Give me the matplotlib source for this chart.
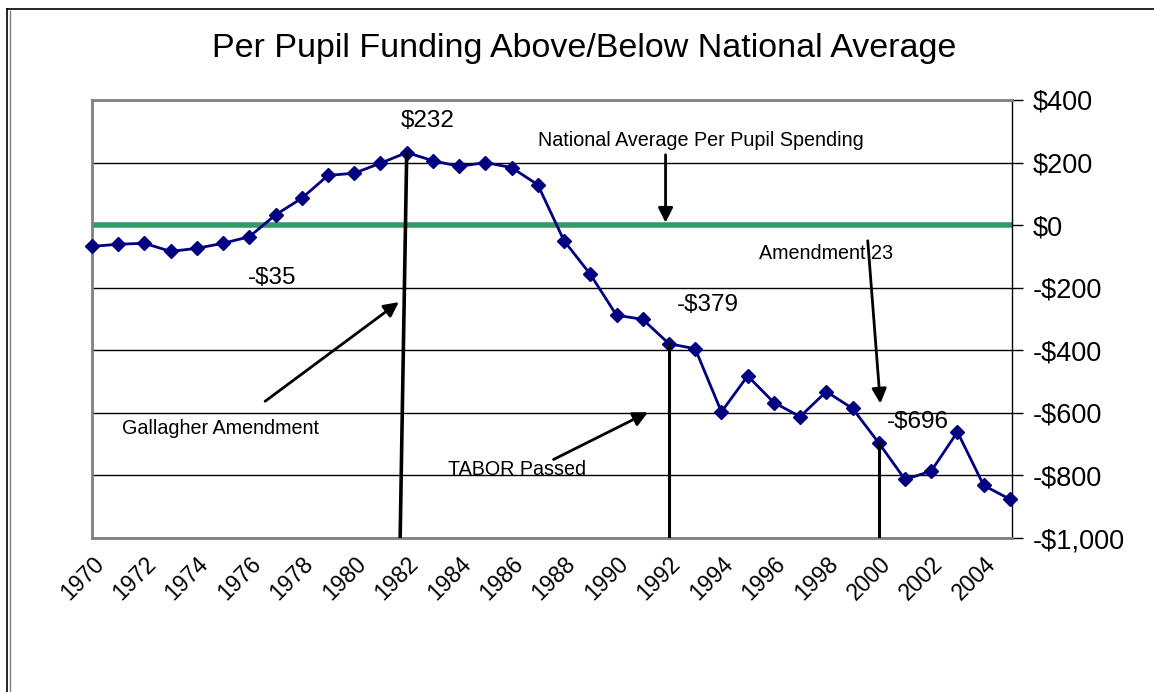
import numpy as np
import matplotlib.pyplot as plt
from matplotlib.lines import Line2D

plt.rcParams['font.family'] = ['Liberation Sans', 'DejaVu Sans']

years = list(range(1970, 2006))
funding = [-68, -61, -58, -84, -74, -58, -37, 33, 86, 159, 166, 198,
           232, 206, 188, 200, 184, 129, -50, -157, -288, -301, -379, -395,
           -597, -482, -567, -612, -532, -586, -696, -813, -786, -661, -832, -876]
tick_years = list(range(1970, 2005, 2))
y_ticks = [400, 200, 0, -200, -400, -600, -800, -1000]
y_labels = ['$400', '$200', '$0', '-$200', '-$400', '-$600', '-$800', '-$1,000']

fig = plt.figure(figsize=(11.54, 6.92), dpi=100)
ax = fig.add_axes([92/1154, 1 - 538/692, 920/1154, 438/692])

# page frame (double line on left and top)
fig.add_artist(Line2D([7/1154, 7/1154], [0, 1 - 9/692], color='black', lw=1.2, transform=fig.transFigure))
fig.add_artist(Line2D([9.5/1154, 9.5/1154], [0, 1 - 11/692], color='gray', lw=1, transform=fig.transFigure))
fig.add_artist(Line2D([7/1154, 1], [1 - 9/692, 1 - 9/692], color='black', lw=1.2, transform=fig.transFigure))

ax.set_xlim(1970, 2005.08)
ax.set_ylim(-1000, 400)

ax.yaxis.tick_right()
ax.set_yticks(y_ticks)
ax.set_yticklabels(y_labels, fontsize=19.5)
ax.tick_params(axis='y', direction='out', length=8, width=1, color='black', pad=7)
ax.grid(axis='y', color='black', lw=1)
ax.set_axisbelow(True)

ax.set_xticks(tick_years)
ax.set_xticklabels([str(y) for y in tick_years], rotation=45, ha='right', va='top',
                   rotation_mode='anchor', fontsize=16.5)
ax.tick_params(axis='x', length=0, pad=10)

for side in ['left', 'top', 'bottom']:
    ax.spines[side].set_color('#808080')
    ax.spines[side].set_linewidth(2)
ax.spines['right'].set_color('black')
ax.spines['right'].set_linewidth(1)

# national average line
ax.axhline(0, color='#339966', lw=4, zorder=2)

ax.plot(years, funding, color='#000080', lw=2, marker='D', markersize=7, clip_on=False, zorder=4)

# vertical markers
ax.plot([1981.75, 1982], [-1000, 232], color='black', lw=2.6, zorder=5)
ax.plot([1992, 1992], [-1000, -379], color='black', lw=2.2, zorder=5)
ax.plot([2000, 2000], [-1000, -696], color='black', lw=2.2, zorder=5)

# data labels
ax.text(1982.8, 333, '$232', fontsize=17.5, ha='center', va='center')
ax.text(1976.86, -170, '-$35', fontsize=17.5, ha='center', va='center')
ax.text(1993.5, -256, '-$379', fontsize=17.5, ha='center', va='center')
ax.text(2001.5, -630, '-$696', fontsize=17.5, ha='center', va='center')

ap = dict(arrowstyle='-|>', color='black', lw=2, mutation_scale=22, shrinkA=0, shrinkB=0)
ax.text(1993.2, 272, 'National Average Per Pupil Spending', fontsize=14.2, ha='center', va='center')
ax.annotate('', xy=(1991.87, 8), xytext=(1991.87, 225), arrowprops=ap)

ax.text(1997.98, -90, 'Amendment 23', fontsize=14.2, ha='center', va='center')
ax.annotate('', xy=(2000.06, -570), xytext=(1999.58, -50), arrowprops=ap)

ax.text(1974.9, -650, 'Gallagher Amendment', fontsize=14.2, ha='center', va='center')
ax.annotate('', xy=(1981.7, -246), xytext=(1976.6, -563), arrowprops=ap)

ax.text(1986.2, -781, 'TABOR Passed', fontsize=14.2, ha='center', va='center')
ax.annotate('', xy=(1991.2, -598), xytext=(1987.6, -749), arrowprops=ap)

fig.text(584/1154, 1 - 48/692, 'Per Pupil Funding Above/Below National Average',
         fontsize=24.5, ha='center', va='center')

fig.savefig('out.png', dpi=100)
